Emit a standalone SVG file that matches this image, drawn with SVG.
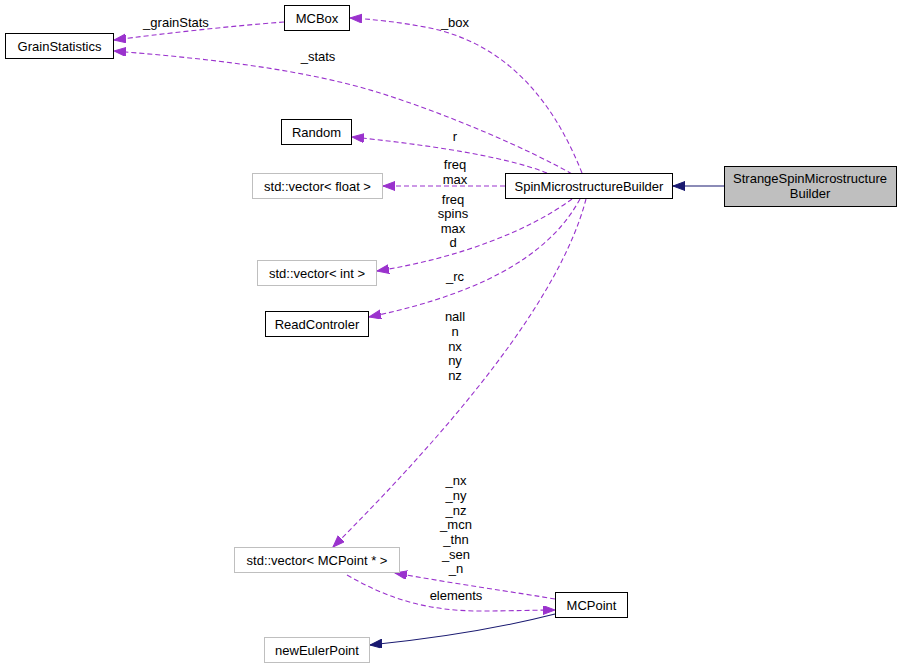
<svg xmlns="http://www.w3.org/2000/svg" width="909" height="668" viewBox="0 0 909 668">
<style>
text{font-family:"Liberation Sans",Arial,sans-serif;font-size:13px;fill:#000;text-anchor:middle}
.n rect{fill:#fff;stroke:#000;stroke-width:1}
.g rect{fill:#fff;stroke:#bfbfbf;stroke-width:1}
.cur rect{fill:#bfbfbf;stroke:#000;stroke-width:1}
.d{fill:none;stroke:#9a32cd;stroke-width:1.1;stroke-dasharray:5,3;marker-end:url(#ap)}
.s{fill:none;stroke:#191970;stroke-width:1.1;marker-end:url(#an)}
</style>
<defs>
<marker id="ap" markerUnits="userSpaceOnUse" markerWidth="13" markerHeight="10" refX="12" refY="4.5" orient="auto"><path d="M0,0 L12,4.5 L0,9 z" fill="#9a32cd" stroke="#9a32cd"/></marker>
<marker id="an" markerUnits="userSpaceOnUse" markerWidth="13" markerHeight="10" refX="12" refY="4.5" orient="auto"><path d="M0,0 L12,4.5 L0,9 z" fill="#191970" stroke="#191970"/></marker>
</defs>
<g id="connectors">
<path class="d" d="M284,22 C230,26 160,34 114,40"/>
<path class="d" d="M582,173 C555,105 510,45 430,28 C400,22 370,19 350,18"/>
<path class="d" d="M572,174 C530,150 450,115 380,93 C300,68 200,58 114,51"/>
<path class="d" d="M547,173 C515,160 450,147 352,137"/>
<path class="d" d="M505,186 L383,186"/>
<path class="d" d="M572,199 C530,230 460,258 377,271"/>
<path class="d" d="M580,199 C555,245 500,290 369,317"/>
<path class="d" d="M586,199 C560,300 450,430 333,547"/>
<path class="d" d="M555,599 C520,593 450,583 395,573"/>
<path class="d" d="M347,575 C390,600 430,611 480,611 C510,611 540,610 555,610"/>
<path class="s" d="M555,614 C500,628 440,638 370,645"/>
<path class="s" d="M724,186 L673,186"/>
<text x="176" y="27">_grainStats</text>
<text x="455" y="27">_box</text>
<text x="318" y="61">_stats</text>
<text x="455" y="141">r</text>
<text x="455" y="168.5">freq</text>
<text x="455" y="183.5">max</text>
<text x="453" y="203.5">freq</text>
<text x="453" y="217.5">spins</text>
<text x="453" y="232.5">max</text>
<text x="453" y="246.5">d</text>
<text x="455" y="281">_rc</text>
<text x="455" y="321">nall</text>
<text x="455" y="336">n</text>
<text x="455" y="350.5">nx</text>
<text x="455" y="365">ny</text>
<text x="455" y="380">nz</text>
<text x="456" y="485">_nx</text>
<text x="456" y="500">_ny</text>
<text x="456" y="515">_nz</text>
<text x="456" y="529">_mcn</text>
<text x="456" y="544">_thn</text>
<text x="456" y="559">_sen</text>
<text x="456" y="573">_n</text>
<text x="456" y="600">elements</text>
</g>
<g id="StrangeSpinMicrostructureBuilder" class="cur"><rect x="724.5" y="166.5" width="172" height="40"/><text x="810" y="182.5">StrangeSpinMicrostructure</text><text x="810" y="197.5">Builder</text></g>
<g id="SpinMicrostructureBuilder" class="n"><rect x="505.5" y="173.5" width="167" height="25"/><text x="589" y="190.5">SpinMicrostructureBuilder</text></g>
<g id="GrainStatistics" class="n"><rect x="5.5" y="33.5" width="108" height="25"/><text x="59.5" y="50.5">GrainStatistics</text></g>
<g id="MCBox" class="n"><rect x="284.5" y="5.5" width="65" height="25"/><text x="317" y="22.5">MCBox</text></g>
<g id="Random" class="n"><rect x="281.5" y="119.5" width="70" height="25"/><text x="316.5" y="136.5">Random</text></g>
<g id="vector_float" class="g"><rect x="252.5" y="173.5" width="130" height="25"/><text x="317.5" y="190.5">std::vector&lt; float &gt;</text></g>
<g id="vector_int" class="g"><rect x="257.5" y="260.5" width="119" height="25"/><text x="317" y="277.5">std::vector&lt; int &gt;</text></g>
<g id="ReadControler" class="n"><rect x="265.5" y="311.5" width="103" height="25"/><text x="317" y="328.5">ReadControler</text></g>
<g id="vector_MCPoint" class="g"><rect x="234.5" y="547.5" width="165" height="25"/><text x="317" y="564.5">std::vector&lt; MCPoint * &gt;</text></g>
<g id="MCPoint" class="n"><rect x="555.5" y="592.5" width="72" height="25"/><text x="591.5" y="609.5">MCPoint</text></g>
<g id="newEulerPoint" class="g"><rect x="264.5" y="637.5" width="105" height="25"/><text x="317" y="654.5">newEulerPoint</text></g>
</svg>
